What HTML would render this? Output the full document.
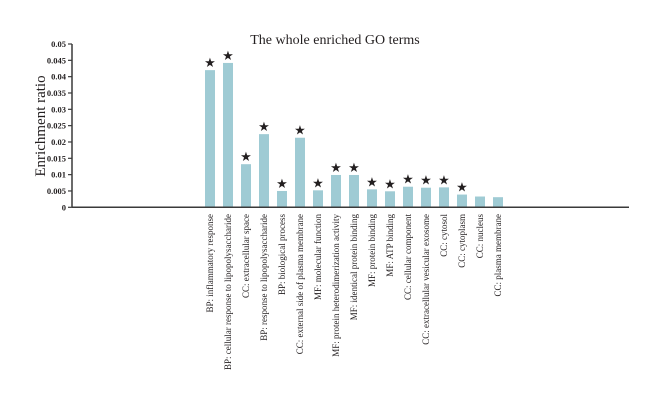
<!DOCTYPE html>
<html><head><meta charset="utf-8"><style>
html,body{margin:0;padding:0;background:#fff;}
svg text{font-family:"Liberation Serif",serif;fill:#231f20;}
</style></head><body>
<svg id="chart" width="660" height="400" viewBox="0 0 660 400" xmlns="http://www.w3.org/2000/svg">
<text x="335" y="44" font-size="14" text-anchor="middle">The whole enriched GO terms</text>
<text transform="translate(45,126) rotate(-90)" font-size="15" text-anchor="middle">Enrichment ratio</text>
<g id="axes"></g>
<g id="bars"></g>
</svg>
<script>
const categories = ["BP: inflammatory response","BP: cellular response to lipopolysaccharide","CC: extracellular space","BP: response to lipopolysaccharide","BP: biological process","CC: external side of plasma membrane","MF: molecular function","MF: protein heterodimerization activity","MF: identical protein binding","MF: protein binding","MF: ATP binding","CC: cellular component","CC: extracellular vesicular exosome","CC: cytosol","CC: cytoplasm","CC: nucleus","CC: plasma membrane"];
const values = [0.042,0.0442,0.0132,0.0224,0.005,0.0213,0.0052,0.0099,0.0099,0.0055,0.0049,0.0063,0.006,0.0061,0.0039,0.0033,0.0031];
const significant = [1,1,1,1,1,1,1,1,1,1,1,1,1,1,1,0,0];
const yTicks = [0,0.005,0.01,0.015,0.02,0.025,0.03,0.035,0.04,0.045,0.05];
const yTickLabels = ["0","0.005","0.01","0.015","0.02","0.025","0.03","0.035","0.04","0.045","0.05"];
const NS="http://www.w3.org/2000/svg";
const y0=207.3, y1=44, yMax=0.05, axisX=72, axisEnd=629;
const y=v=>y0-(v/yMax)*(y0-y1);
const x=i=>210+i*18;
const barW=10;
function mk(t,a){const e=document.createElementNS(NS,t);for(const k in a)e.setAttribute(k,a[k]);return e;}
const axes=document.getElementById('axes'), bars=document.getElementById('bars');
let l=mk('line',{x1:axisX,y1:y1,x2:axisX,y2:y0,stroke:'#3a3a3a','stroke-width':1.5});


axes.appendChild(l);
l=mk('line',{x1:axisX,y1:y0,x2:axisEnd,y2:y0,stroke:'#3a3a3a','stroke-width':1.5});


axes.appendChild(l);
yTicks.forEach((v,i)=>{
 const t=mk('line',{x1:axisX-4,y1:y(v),x2:axisX,y2:y(v),stroke:'#3a3a3a','stroke-width':1.2});
 
 
 axes.appendChild(t);
 const tx=mk('text',{x:axisX-6,y:y(v)+3,'font-size':8.5,'font-weight':'bold','text-anchor':'end'});
 tx.textContent=yTickLabels[i];
 
 
 axes.appendChild(tx);
});
categories.forEach((c,i)=>{
 const cx=x(i), v=values[i];
 const r=mk('rect',{x:cx-barW/2,y:y(v),width:barW,height:y0-y(v)-0.8,fill:'#9fcbd4'});
 
 
 bars.appendChild(r);
 if(significant[i]){
  const s=mk('text',{x:cx,y:y(v)-3,'font-size':13,'text-anchor':'middle'});
  s.textContent='★';
  
  
  bars.appendChild(s);
 }
 const lb=mk('text',{transform:`translate(${cx+3},214) rotate(-90)`,'font-size':9,'text-anchor':'end'});
 lb.textContent=c;
 
 
 bars.appendChild(lb);
});
</script>
</body></html>
